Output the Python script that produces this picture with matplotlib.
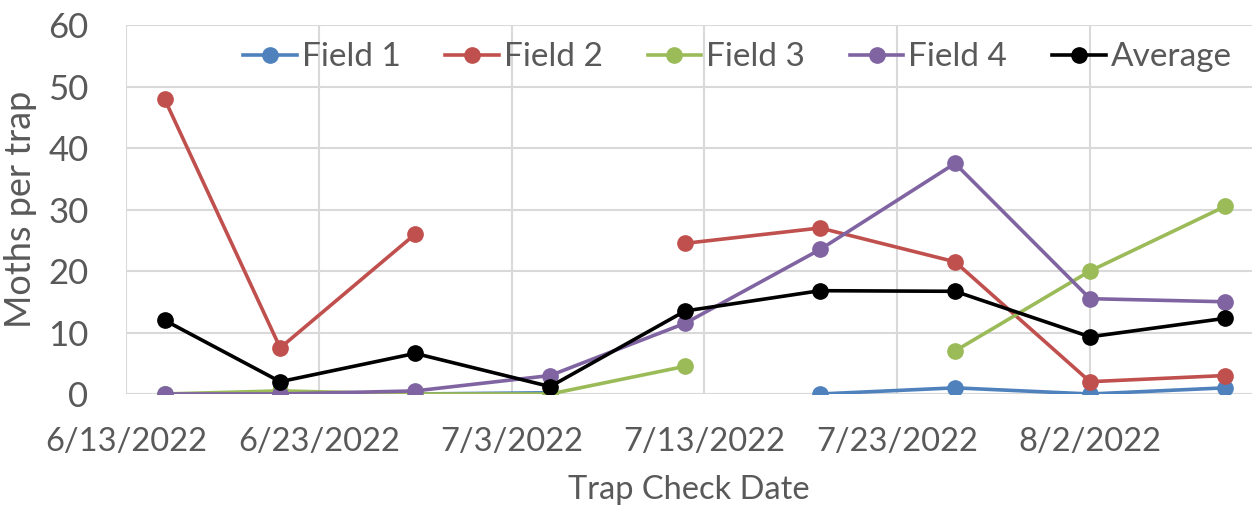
import matplotlib.pyplot as plt
import matplotlib.dates as mdates
import numpy as np
import datetime as dt

# ==============================
# DATA
# ==============================
dates = ["2022-06-15", "2022-06-21", "2022-06-28", "2022-07-05", "2022-07-12",
         "2022-07-19", "2022-07-26", "2022-08-02", "2022-08-09"]
nan = np.nan
field1 = [0, 0, 0, 0.2, nan, 0, 1, 0, 1]
field2 = [48, 7.5, 26, nan, 24.5, 27, 21.5, 2, 3]
field3 = [0, 0.5, 0, 0, 4.5, nan, 7, 20, 30.5]
field4 = [0, 0, 0.5, 3, 11.5, 23.5, 37.5, 15.5, 15]
average = [12, 2, 6.6, 1.2, 13.5, 16.8, 16.7, 9.3, 12.3]

series_names = ["Field 1", "Field 2", "Field 3", "Field 4", "Average"]
series_colors = ["#4F81BD", "#C0504D", "#9BBB59", "#8064A2", "#000000"]
tick_dates = ["2022-06-13", "2022-06-23", "2022-07-03", "2022-07-13", "2022-07-23", "2022-08-02"]

x = [dt.datetime.strptime(d, "%Y-%m-%d") for d in dates]
ticks = [dt.datetime.strptime(d, "%Y-%m-%d") for d in tick_dates]

# ==============================
# SETUP
# ==============================
plt.rcParams['font.family'] = ['Lato', 'DejaVu Sans']
text_col = "#595959"

fig = plt.figure(figsize=(12.57, 5.12), dpi=100)
ax = fig.add_axes([0.1002, 0.2305, 0.8958, 0.7205])

for vals, name, col in zip([field1, field2, field3, field4, average], series_names, series_colors):
    ax.plot(x, vals, color=col, lw=2.6, marker="o", ms=11, label=name, zorder=3)

ax.set_xlim(ticks[0], ticks[0] + dt.timedelta(days=58.4))
ax.set_ylim(0, 60)
ax.set_yticks(range(0, 61, 10))
ax.set_xticks(ticks)
ax.xaxis.set_major_formatter(mdates.DateFormatter("%-m/%-d/%Y"))

ax.grid(True, color="#D9D9D9", lw=1.5, zorder=0)
for s in ax.spines.values():
    s.set_visible(False)
ax.axhline(0, color="#D9D9D9", lw=1.5, zorder=1)
ax.tick_params(length=0, colors=text_col)
ax.tick_params(axis="x", labelsize=23.5, pad=24)
ax.tick_params(axis="y", labelsize=25, pad=27)

ax.set_xlabel("Trap Check Date", fontsize=23.5, color=text_col, labelpad=13)
ax.set_ylabel("Moths per trap", fontsize=26, color=text_col, labelpad=8)

# ==============================
# LEGEND
# ==============================
leg = ax.legend(loc="center", bbox_to_anchor=(0.543, 0.913), ncol=5, frameon=False,
                fontsize=24, handlelength=1.6, columnspacing=1.35, handletextpad=0.15)
for t in leg.get_texts():
    t.set_color(text_col)

plt.savefig("out.png", dpi=100)
